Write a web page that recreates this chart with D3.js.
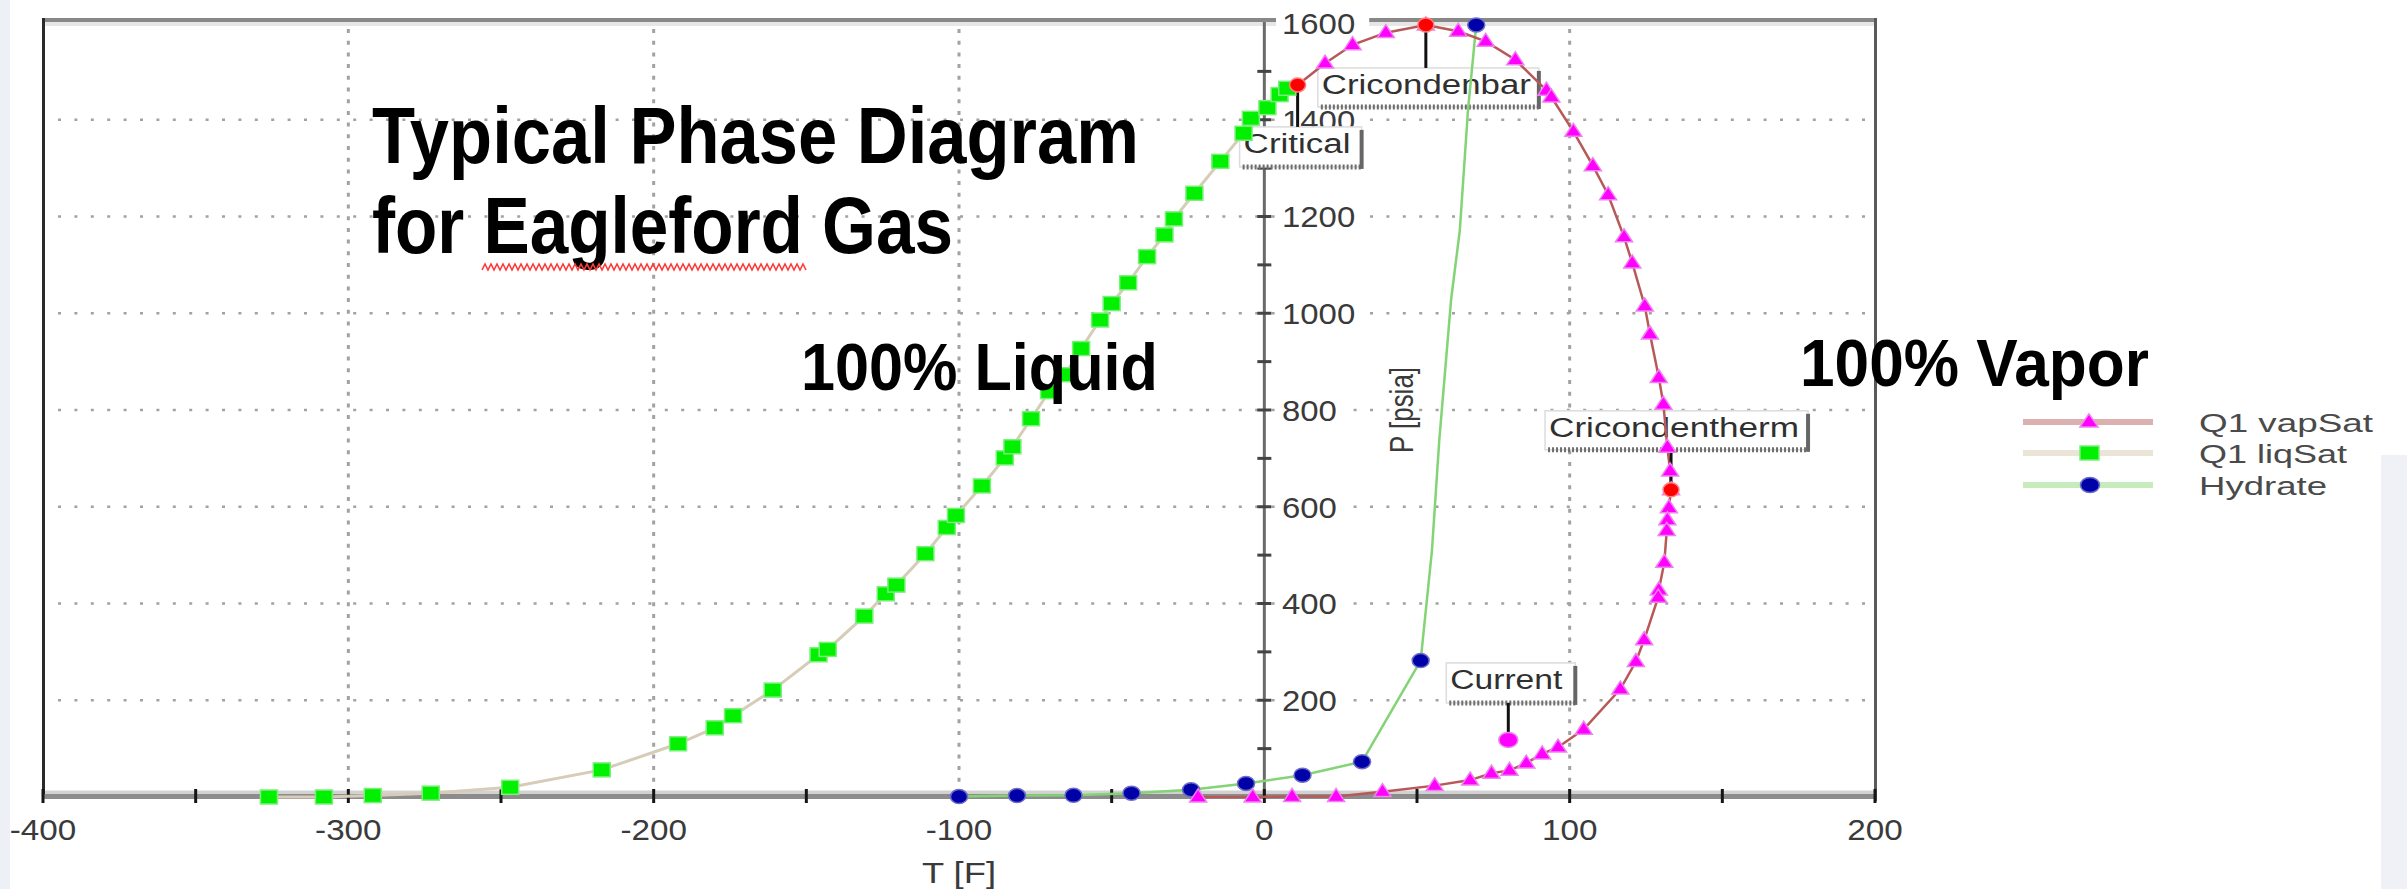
<!DOCTYPE html>
<html><head><meta charset="utf-8">
<script src="https://cdn.jsdelivr.net/npm/d3@7"></script>
<style>html,body{margin:0;padding:0;background:#fff;overflow:hidden}</style>
</head><body>
<svg id="c" width="2407" height="889"></svg>
<script>
// ---------------- DATA ----------------
const xTicks = [-400, -300, -200, -100, 0, 100, 200];
const yTicks = [200, 400, 600, 800, 1000, 1200, 1400, 1600];
const xGrid = [-300, -200, -100, 100];
const yGrid = [200, 400, 600, 800, 1000, 1200, 1400];

// Q1 liqSat (bubble line)
const liqT = [-326,-308,-292,-273,-247,-217,-192,-180,-174,-161,-146,-143,-131,-124,-120.5,-111,-104,-101,-92.5,-85,-82.5,-76.4,-70.5,-65.3,-60,-53.8,-50,-44.6,-38.4,-32.7,-29.6,-22.9,-14.4,-6.8,-4.4,1,5,7.5];
const liqP = [0,0,3,8,20,56,110,143,168,221,294,305,374,420,438,503,557,582,643,701,724,782,838,873,927,986,1020,1063,1117,1162,1195,1248,1314,1372,1403,1425,1452,1465];

// Q1 vapSat (dew line), from critical point clockwise
const vapT = [19.9,28.9,39.8,52.9,63.5,72.5,82.2,92.4,94,101.2,107.6,112.6,117.8,120.5,124.6,126.3,129.2,130.7,132,132.9,133.2,132.5,132,131.8,131,129.2,129,124.4,121.7,116.6,104.6,96.2,91,85.8,80.3,74.4,67.4,55.8,38.7,23.5,9.1,-3.8,-21.7];
const vapP = [1517,1555,1580,1596,1583,1562,1524,1461,1447,1376,1305,1245,1158,1104,1015,957,867,812,723,674,635,598,573,551,485,428,413,325,280,223,140,103,89,70,55,49,35,23.5,11,1,1,0,0];

// Hydrate curve: marker points and full trace
const hydT = [-100,-81,-62.5,-43.5,-24,-6,12.5,32,51.2,69.4];
const hydP = [1,3,3.5,8,15,28,45,73,282,1596];
const hydTraceT = [-100,-81,-62.5,-43.5,-24,-6,12.5,32,51.2,54.9,57.3,61.2,64,66.7,69.4];
const hydTraceP = [1,3,3.5,8,15,28,45,73,282,510,738,1030,1170,1420,1596];

// Key points
const keyLabels = ["Critical", "Cricondenbar", "Cricondentherm", "Current"];
const keyT = [10.9, 52.9, 133.2, 79.9];
const keyP = [1472, 1596, 635, 118];

const legendLabels = ["Q1 vapSat", "Q1 liqSat", "Hydrate"];
const titleLines = ["Typical Phase Diagram", "for Eagleford Gas"];
const regionLabels = ["100% Liquid", "100% Vapor"];
const xTitle = "T [F]";
const yTitle = "P [psia]";

// ---------------- DRAWING ----------------
const svg = d3.select('#c');
const x = d3.scaleLinear().domain([-400, 200]).range([43, 1875]);
const y = d3.scaleLinear().domain([0, 1600]).range([797, 23]);
const SANS = "'Liberation Sans', Arial, sans-serif";
const NARROW = "'Liberation Sans Narrow', 'Liberation Sans', Arial, sans-serif";
function fit(t, L) { return t.attr('textLength', L).attr('lengthAdjust', 'spacingAndGlyphs'); }

// side strips of the slide background
svg.append('rect').attr('x', 0).attr('y', 0).attr('width', 10).attr('height', 889).attr('fill', '#eef0f7');
svg.append('rect').attr('x', 2381).attr('y', 455).attr('width', 26).attr('height', 434).attr('fill', '#eff1f7');

// grid
svg.append('g').selectAll('line').data(yGrid).join('line')
  .attr('x1', 58).attr('x2', 1872).attr('y1', d => y(d)).attr('y2', d => y(d))
  .attr('stroke', '#a2a2a2').attr('stroke-width', 2.5).attr('stroke-dasharray', '3,13.4');
svg.append('g').selectAll('line').data(xGrid).join('line')
  .attr('x1', d => x(d)).attr('x2', d => x(d)).attr('y1', 29).attr('y2', 794)
  .attr('stroke', '#a2a2a2').attr('stroke-width', 3).attr('stroke-dasharray', '4,7.7');

// frame
const fr = svg.append('g');
fr.append('line').attr('x1', 45).attr('x2', 1874).attr('y1', 24).attr('y2', 24).attr('stroke', '#e6e6e6').attr('stroke-width', 4);
fr.append('line').attr('x1', 42).attr('x2', 1877).attr('y1', 20).attr('y2', 20).attr('stroke', '#888').attr('stroke-width', 4);
fr.append('line').attr('x1', 43.5).attr('x2', 43.5).attr('y1', 18).attr('y2', 799).attr('stroke', '#2a2a2a').attr('stroke-width', 3);
fr.append('line').attr('x1', 1875.5).attr('x2', 1875.5).attr('y1', 18).attr('y2', 801).attr('stroke', '#5a5a5a').attr('stroke-width', 3);
fr.append('line').attr('x1', 45).attr('x2', 1874).attr('y1', 792.3).attr('y2', 792.3).attr('stroke', '#d2d2d2').attr('stroke-width', 3.5);
fr.append('line').attr('x1', 43).attr('x2', 1876).attr('y1', 796.5).attr('y2', 796.5).attr('stroke', '#8c8c8c').attr('stroke-width', 5);
// y axis at T = 0
fr.append('line').attr('x1', x(0)).attr('x2', x(0)).attr('y1', 22).attr('y2', 797).attr('stroke', '#6a6a6a').attr('stroke-width', 3);
// ticks
fr.selectAll('line.xt').data(d3.range(-400, 201, 50)).join('line').attr('class', 'xt')
  .attr('x1', d => x(d)).attr('x2', d => x(d)).attr('y1', 789).attr('y2', 803)
  .attr('stroke', '#151515').attr('stroke-width', 3);
fr.selectAll('line.yt').data(d3.range(100, 1600, 100)).join('line').attr('class', 'yt')
  .attr('x1', x(0) - 7).attr('x2', x(0) + 7).attr('y1', d => y(d)).attr('y2', d => y(d))
  .attr('stroke', '#444').attr('stroke-width', 3);

// y tick labels with white background
const yl = svg.append('g');
yTicks.forEach(v => {
  const s = String(v), L = s.length * 18.3;
  yl.append('rect').attr('x', 1276).attr('y', y(v) - 14).attr('width', L + 20).attr('height', 28).attr('fill', '#fff');
  fit(yl.append('text').attr('x', 1282).attr('y', y(v)).attr('dy', '0.36em').text(s)
    .attr('font-family', SANS).attr('font-size', 30).attr('fill', '#3a3a3a'), L);
});

// annotation boxes
const boxLayout = {
  "Critical":       {dx: -58,  dy: 42,  w: 122, h: 40, tl: 107, above: false},
  "Cricondenbar":   {dx: -108, dy: 43,  w: 221, h: 39, tl: 209, above: false},
  "Cricondentherm": {dx: -126, dy: -79, w: 263, h: 39, tl: 250, above: true},
  "Current":        {dx: -62,  dy: -77, w: 129, h: 40, tl: 112, above: true}
};
const ann = svg.append('g');
keyLabels.forEach((lab, i) => {
  const L = boxLayout[lab], px = x(keyT[i]), py = y(keyP[i]);
  const x0 = px + L.dx, y0 = py + L.dy;
  ann.append('rect').attr('x', x0).attr('y', y0).attr('width', L.w).attr('height', L.h)
    .attr('fill', '#fff').attr('stroke', '#dcdcdc').attr('stroke-width', 1.5);
  ann.append('line').attr('x1', x0 + 3).attr('x2', x0 + L.w).attr('y1', y0 + L.h).attr('y2', y0 + L.h)
    .attr('stroke', '#6e6e6e').attr('stroke-width', 5).attr('stroke-dasharray', '2,2');
  ann.append('line').attr('x1', x0 + L.w).attr('x2', x0 + L.w).attr('y1', y0 + 3).attr('y2', y0 + L.h + 2)
    .attr('stroke', '#666').attr('stroke-width', 4);
  fit(ann.append('text').attr('x', x0 + 4).attr('y', y0 + 26).text(lab)
    .attr('font-family', SANS).attr('font-size', 27).attr('fill', '#303030'), L.tl);
});

// series lines
const line = d3.line().x(d => x(d[0])).y(d => y(d[1]));
const liqLine = liqT.map((t, i) => [t, liqP[i]]).concat([[keyT[0], keyP[0]]]);
const vapLine = [[keyT[0], keyP[0]]].concat(vapT.map((t, i) => [t, vapP[i]]));
const hydLine = hydTraceT.map((t, i) => [t, hydTraceP[i]]);
svg.append('path').attr('d', line(liqLine)).attr('fill', 'none').attr('stroke', '#d6ccb8').attr('stroke-width', 3);
svg.append('path').attr('d', line(hydLine)).attr('fill', 'none').attr('stroke', '#82d474').attr('stroke-width', 2.5);
svg.append('path').attr('d', line(vapLine)).attr('fill', 'none').attr('stroke', '#b85858').attr('stroke-width', 2.5);

// leader lines
keyLabels.forEach((lab, i) => {
  const L = boxLayout[lab], px = x(keyT[i]), py = y(keyP[i]);
  const y0 = py + L.dy;
  const yEnd = L.above ? y0 + L.h : y0;
  svg.append('line').attr('x1', px).attr('x2', px).attr('y1', py).attr('y2', yEnd)
    .attr('stroke', '#111').attr('stroke-width', 3);
});

// markers
function tri(g, cx, cy, w, h) {
  return g.append('path').attr('d', `M${cx},${cy - h * 0.62}L${cx + w / 2},${cy + h * 0.38}L${cx - w / 2},${cy + h * 0.38}Z`);
}
const mk = svg.append('g');
liqT.forEach((t, i) => {
  mk.append('rect').attr('x', x(t) - 8.5).attr('y', y(liqP[i]) - 7).attr('width', 17).attr('height', 14)
    .attr('fill', '#00f000').attr('stroke', '#7af07a').attr('stroke-width', 1.5);
});
hydT.forEach((t, i) => {
  mk.append('ellipse').attr('cx', x(t)).attr('cy', y(hydP[i])).attr('rx', 8.5).attr('ry', 7)
    .attr('fill', '#0000a8').attr('stroke', '#6c6cc8').attr('stroke-width', 1.5);
});
vapT.forEach((t, i) => {
  tri(mk, x(t), y(vapP[i]), 17, 13).attr('fill', '#ff00ff').attr('stroke', '#f080f0').attr('stroke-width', 1.5);
});
keyLabels.forEach((lab, i) => {
  const cur = lab === "Current";
  mk.append('ellipse').attr('cx', x(keyT[i])).attr('cy', y(keyP[i]))
    .attr('rx', cur ? 9.5 : 8).attr('ry', cur ? 7.5 : 7)
    .attr('fill', cur ? '#ff00ff' : '#ff0000').attr('stroke', cur ? '#f080f0' : '#ff8080').attr('stroke-width', 1.5);
});

// x tick labels
xTicks.forEach(v => {
  const s = String(v), L = s.replace('-', '').length * 18.5 + (v < 0 ? 11 : 0);
  fit(svg.append('text').attr('x', x(v)).attr('y', 840).attr('text-anchor', 'middle').text(s)
    .attr('font-family', SANS).attr('font-size', 30).attr('fill', '#3a3a3a'), L);
});
// axis titles
fit(svg.append('text').attr('x', (x(-400) + x(200)) / 2).attr('y', 883).attr('text-anchor', 'middle').text(xTitle)
  .attr('font-family', SANS).attr('font-size', 30).attr('fill', '#3a3a3a'), 74);
fit(svg.append('text').attr('transform', `translate(1413,${(y(0) + y(1600)) / 2}) scale(1.3,1) rotate(-90)`)
  .attr('text-anchor', 'middle').text(yTitle)
  .attr('font-family', SANS).attr('font-size', 26).attr('fill', '#3a3a3a'), 86);

// big titles
const tb = svg.append('g').attr('font-family', NARROW).attr('font-weight', 'bold').attr('fill', '#000');
fit(tb.append('text').attr('x', 372).attr('y', 163).attr('font-size', 79).text(titleLines[0]), 767);
fit(tb.append('text').attr('x', 372).attr('y', 253).attr('font-size', 79).text(titleLines[1]), 581);
fit(tb.append('text').attr('x', 801).attr('y', 390).attr('font-size', 67).text(regionLabels[0]), 357);
fit(tb.append('text').attr('x', 1800).attr('y', 386).attr('font-size', 67).text(regionLabels[1]), 349);
// spell-check squiggle under "Eagleford"
const sq = d3.range(482, 807, 3).map((px, i) => [px, i % 2 ? 264 : 270]);
svg.append('path').attr('d', d3.line()(sq)).attr('fill', 'none').attr('stroke', '#ff3b3b').attr('stroke-width', 1.6);

// legend
const legY = [422, 453, 485];
const legLineCol = ['#dcb0b0', '#ebe5d8', '#c6ecbe'];
const legTL = [174, 148, 128];
legendLabels.forEach((lab, i) => {
  const ly = legY[i];
  svg.append('line').attr('x1', 2023).attr('x2', 2153).attr('y1', ly).attr('y2', ly)
    .attr('stroke', legLineCol[i]).attr('stroke-width', 6);
  if (i === 0) tri(svg, 2089, ly, 18, 13).attr('fill', '#ff00ff').attr('stroke', '#f080f0').attr('stroke-width', 1.5);
  if (i === 1) svg.append('rect').attr('x', 2080).attr('y', ly - 7).attr('width', 19).attr('height', 14).attr('fill', '#00f000').attr('stroke', '#7af07a').attr('stroke-width', 1.5);
  if (i === 2) svg.append('ellipse').attr('cx', 2090).attr('cy', ly).attr('rx', 9.5).attr('ry', 7.5).attr('fill', '#0000a8').attr('stroke', '#6c6cc8').attr('stroke-width', 1.5);
  fit(svg.append('text').attr('x', 2199).attr('y', ly + 10).text(lab)
    .attr('font-family', SANS).attr('font-size', 26).attr('fill', '#4a4a4a'), legTL[i]);
});
</script>
</body></html>
